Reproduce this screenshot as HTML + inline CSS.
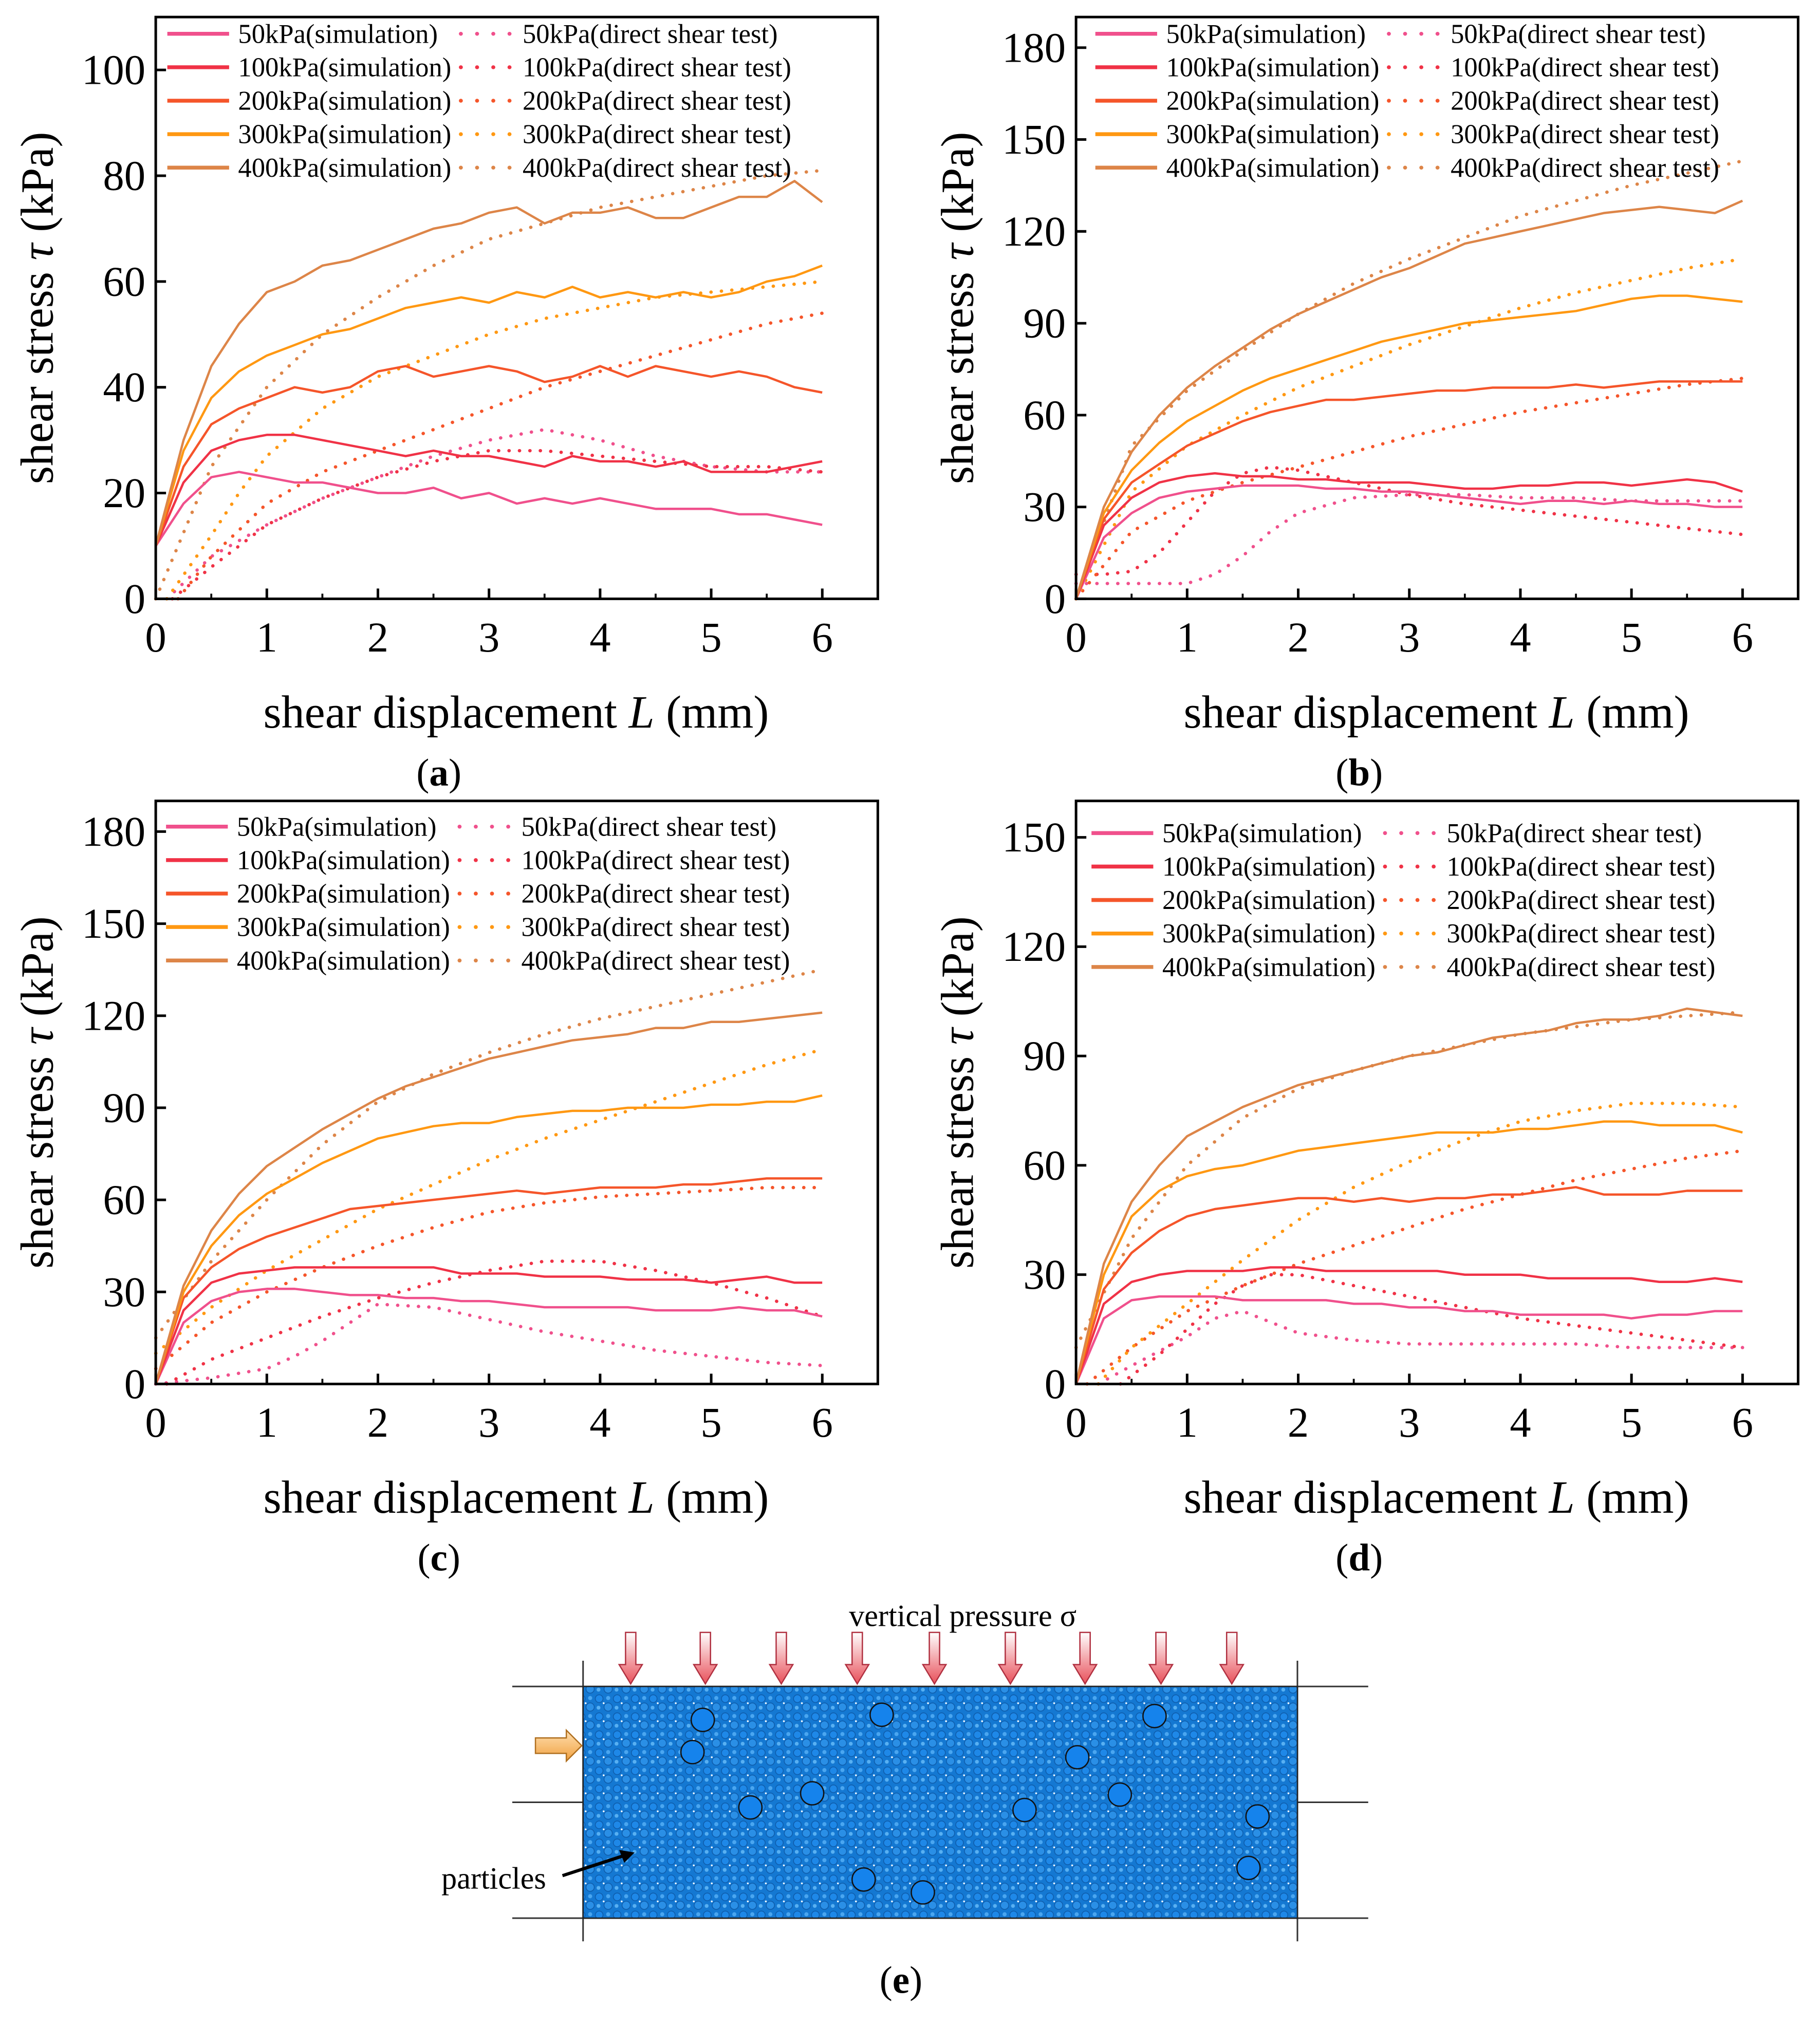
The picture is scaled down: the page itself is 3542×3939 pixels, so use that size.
<!DOCTYPE html>
<html><head><meta charset="utf-8"><style>
html,body{margin:0;padding:0;background:#fff}
svg{display:block;font-family:"Liberation Serif",serif}
</style></head><body>
<svg id="fig" width="3542" height="3939" viewBox="0 0 1414 1572" xmlns="http://www.w3.org/2000/svg">
<defs>
<pattern id="grain" width="14" height="14" patternUnits="userSpaceOnUse">
<rect width="14" height="14" fill="#1478d2"/>
<circle cx="3.5" cy="3.5" r="3" fill="#1e88e8" stroke="#0d5aa8" stroke-width="0.6"/>
<circle cx="10.5" cy="10" r="3.2" fill="#2a8fe6" stroke="#0d5aa8" stroke-width="0.6"/>
<circle cx="10.5" cy="3" r="1.6" fill="#4aa6f0"/>
<circle cx="3" cy="10.5" r="1.5" fill="#58b0f2"/>
<circle cx="7" cy="7" r="0.7" fill="#ffffff"/>
</pattern>
<linearGradient id="arrowGrad" x1="0" y1="0" x2="0" y2="1">
<stop offset="0" stop-color="#ffffff"/><stop offset="1" stop-color="#e8505a"/>
</linearGradient>
<linearGradient id="shearGrad" x1="0" y1="0" x2="0" y2="1">
<stop offset="0" stop-color="#ffe0b0"/><stop offset="1" stop-color="#f0a040"/>
</linearGradient>
</defs>
</svg>
<script>
// ---------- data ----------
const simX = [0,0.25,0.5,0.75,1,1.25,1.5,1.75,2,2.25,2.5,2.75,3,3.25,3.5,3.75,4,4.25,4.5,4.75,5,5.25,5.5,5.75,6];
const pressures = ["50kPa","100kPa","200kPa","300kPa","400kPa"];
const seriesColors = ["#f0508c","#f03246","#f5552a","#ff9812","#dd8548"];

const simA50  = [10,18,23,24,23,22,22,21,20,20,21,19,20,18,19,18,19,18,17,17,17,16,16,15,14];
const simA100 = [10,22,28,30,31,31,30,29,28,27,28,27,27,26,25,27,26,26,25,26,24,24,24,25,26];
const simA200 = [10,25,33,36,38,40,39,40,43,44,42,43,44,43,41,42,44,42,44,43,42,43,42,40,39];
const simA300 = [10,28,38,43,46,48,50,51,53,55,56,57,56,58,57,59,57,58,57,58,57,58,60,61,63];
const simA400 = [10,30,44,52,58,60,63,64,66,68,70,71,73,74,71,73,73,74,72,72,74,76,76,79,75];
const testA50x  = [0.1,0.25,0.5,1,1.5,2,2.5,3,3.5,4,4.5,5,5.5,6];
const testA50y  = [0,3,8,14,19,23,27,30,32,30,27,25,24,24];
const testA100x = [0.15,0.5,1,1.5,2,2.5,3,3.5,4,4.5,5,5.5,6];
const testA100y = [0,6,14,19,23,26,28,28,27,26,25,25,24];
const testA200x = [0.2,0.5,1,1.5,2,2.5,3,3.5,4,4.5,5,5.5,6];
const testA200y = [0,8,18,24,28,32,36,40,43,46,49,52,54];
const testA300x = [0.1,0.5,0.75,1,1.5,2,2.5,3,3.5,4,4.5,5,5.5,6];
const testA300y = [0,12,20,27,36,42,46,50,53,55,57,58,59,60];
const testA400x = [0,0.5,1,1.5,2,2.5,3,3.5,4,4.5,5,5.5,6];
const testA400y = [0,25,40,50,57,63,68,71,74,76,78,80,81];

const simB50  = [0,20,28,33,35,36,37,37,37,36,36,35,35,34,33,32,31,32,32,31,32,31,31,30,30];
const simB100 = [0,24,33,38,40,41,40,40,39,39,38,38,38,37,36,36,37,37,38,38,37,38,39,38,35];
const simB200 = [0,26,38,44,50,54,58,61,63,65,65,66,67,68,68,69,69,69,70,69,70,71,71,71,71];
const simB300 = [0,28,42,51,58,63,68,72,75,78,81,84,86,88,90,91,92,93,94,96,98,99,99,98,97];
const simB400 = [0,30,48,60,69,76,82,88,93,97,101,105,108,112,116,118,120,122,124,126,127,128,127,126,130];
const testB50x  = [0,0.5,1,1.25,1.5,1.75,2,2.5,3,3.5,4,4.5,5,5.5,6];
const testB50y  = [5,5,5,8,14,22,28,33,34,34,33,33,32,32,32];
const testB100x = [0,0.25,0.5,0.75,1,1.25,1.5,1.75,2,2.5,3,3.5,4,4.5,5,5.5,6];
const testB100y = [8,8,9,15,25,35,41,43,42,38,34,31,29,27,25,23,21];
const testB200x = [0,0.5,1,1.5,2,2.5,3,3.5,4,4.5,5,5.5,6];
const testB200y = [0,22,32,38,43,48,53,57,61,64,67,70,72];
const testB300x = [0,0.5,1,1.5,2,2.5,3,3.5,4,4.5,5,5.5,6];
const testB300y = [0,35,50,60,69,76,83,89,95,100,104,108,111];
const testB400x = [0,0.5,1,1.5,2,2.5,3,3.5,4,4.5,5,5.5,6];
const testB400y = [0,50,68,81,93,103,111,118,125,130,135,139,143];

const simC50  = [0,20,27,30,31,31,30,29,29,28,28,27,27,26,25,25,25,25,24,24,24,25,24,24,22];
const simC100 = [0,24,33,36,37,38,38,38,38,38,38,36,36,36,35,35,35,34,34,34,33,34,35,33,33];
const simC200 = [0,28,38,44,48,51,54,57,58,59,60,61,62,63,62,63,64,64,64,65,65,66,67,67,67];
const simC300 = [0,30,45,55,62,67,72,76,80,82,84,85,85,87,88,89,89,90,90,90,91,91,92,92,94];
const simC400 = [0,32,50,62,71,77,83,88,93,97,100,103,106,108,110,112,113,114,116,116,118,118,119,120,121];
const testC50x  = [0,0.5,1,1.25,1.5,1.75,2,2.5,3,3.5,4,4.5,5,5.5,6];
const testC50y  = [0,2,5,9,14,20,26,25,21,17,14,11,9,7,6];
const testC100x = [0.1,0.5,1,1.5,2,2.5,3,3.5,4,4.5,5,5.5,6];
const testC100y = [0,8,15,22,28,33,37,40,40,37,33,28,22];
const testC200x = [0,0.5,1,1.5,2,2.5,3,3.5,4,4.5,5,5.5,6];
const testC200y = [5,20,30,38,45,51,56,59,61,62,63,64,64];
const testC300x = [0,0.5,1,1.5,2,2.5,3,3.5,4,4.5,5,5.5,6];
const testC300y = [10,25,37,47,57,65,73,80,86,92,98,104,109];
const testC400x = [0,0.5,1,1.5,2,2.5,3,3.5,4,4.5,5,5.5,6];
const testC400y = [15,40,60,78,92,101,108,114,119,123,127,131,135];

const simD50  = [0,18,23,24,24,24,23,23,23,23,22,22,21,21,20,20,19,19,19,19,18,19,19,20,20];
const simD100 = [0,22,28,30,31,31,31,32,32,31,31,31,31,31,30,30,30,29,29,29,29,28,28,29,28];
const simD200 = [0,26,36,42,46,48,49,50,51,51,50,51,50,51,51,52,52,53,54,52,52,52,53,53,53];
const simD300 = [0,30,46,53,57,59,60,62,64,65,66,67,68,69,69,69,70,70,71,72,72,71,71,71,69];
const simD400 = [0,33,50,60,68,72,76,79,82,84,86,88,90,91,93,95,96,97,99,100,100,101,103,102,101];
const testD50x  = [0.2,0.5,0.75,1,1.25,1.5,1.75,2,2.5,3,3.5,4,4.5,5,5.5,6];
const testD50y  = [0,5,9,13,18,20,17,14,12,11,11,11,11,10,10,10];
const testD100x = [0.4,0.75,1,1.25,1.5,1.75,2,2.5,3,3.5,4,4.5,5,5.5,6];
const testD100y = [0,8,15,22,27,30,30,27,24,21,18,16,14,12,10];
const testD200x = [0.1,0.5,1,1.5,2,2.5,3,3.5,4,4.5,5,5.5,6];
const testD200y = [0,10,20,27,33,38,43,48,52,56,59,62,64];
const testD300x = [0.2,0.5,1,1.5,2,2.5,3,3.5,4,4.5,5,5.5,6];
const testD300y = [0,10,22,34,45,54,61,67,72,75,77,77,76];
const testD400x = [0,0.5,1,1.5,2,2.5,3,3.5,4,4.5,5,5.5,6];
const testD400y = [10,40,60,73,81,86,90,93,96,98,100,101,102];

const xTicks = [0,1,2,3,4,5,6];
const yTicksA = [0,20,40,60,80,100];
const yTicksB = [0,30,60,90,120,150,180];
const yTicksD = [0,30,60,90,120,150];

// ---------- drawing ----------
const NS = "http://www.w3.org/2000/svg";
const svg = document.getElementById("fig");
function mk(tag, attrs, parent){
  const e = document.createElementNS(NS, tag);
  for (const k in attrs) e.setAttribute(k, attrs[k]);
  (parent||svg).appendChild(e);
  return e;
}

const panels = [
  {id:"a", left:121, top:13, right:682, bottom:465, ymax:110, yt:yTicksA,
   sims:[simA50,simA100,simA200,simA300,simA400],
   tx:[testA50x,testA100x,testA200x,testA300x,testA400x], ty:[testA50y,testA100y,testA200y,testA300y,testA400y],
   legX:130, legY:26},
  {id:"b", left:836, top:13, right:1397, bottom:465, ymax:190, yt:yTicksB,
   sims:[simB50,simB100,simB200,simB300,simB400],
   tx:[testB50x,testB100x,testB200x,testB300x,testB400x], ty:[testB50y,testB100y,testB200y,testB300y,testB400y],
   legX:851, legY:26},
  {id:"c", left:121, top:622, right:682, bottom:1075, ymax:190, yt:yTicksB,
   sims:[simC50,simC100,simC200,simC300,simC400],
   tx:[testC50x,testC100x,testC200x,testC300x,testC400x], ty:[testC50y,testC100y,testC200y,testC300y,testC400y],
   legX:129, legY:642},
  {id:"d", left:836, top:622, right:1397, bottom:1075, ymax:160, yt:yTicksD,
   sims:[simD50,simD100,simD200,simD300,simD400],
   tx:[testD50x,testD100x,testD200x,testD300x,testD400x], ty:[testD50y,testD100y,testD200y,testD300y,testD400y],
   legX:848, legY:647}
];

panels.forEach(p => {
  const g = mk("g", {});
  
  
  const W = p.right - p.left, H = p.bottom - p.top;
  const sx = v => p.left + v / 6.5 * W;
  const sy = v => p.bottom - v / p.ymax * H;

  const sg = mk("g", {}, g);
  
  
  for (let i = 0; i < 5; i++) {
    const d = p.tx[i].map((x, j) => (j ? "L" : "M") + sx(x).toFixed(1) + "," + sy(p.ty[i][j]).toFixed(1)).join("");
    const tl = mk("path", {d: d, fill: "none", stroke: seriesColors[i], "stroke-width": 2.6, "stroke-dasharray": "0.1 8", "stroke-linecap": "round"}, sg);
    
    
  }
  for (let i = 0; i < 5; i++) {
    const d = simX.map((x, j) => (j ? "L" : "M") + sx(x).toFixed(1) + "," + sy(p.sims[i][j]).toFixed(1)).join("");
    const sl = mk("path", {d: d, fill: "none", stroke: seriesColors[i], "stroke-width": 1.8, "stroke-linejoin": "round"}, sg);
    
    
  }

  const fr = mk("rect", {x: p.left, y: p.top, width: W, height: H, fill: "none", stroke: "#000", "stroke-width": 2}, g);
  
  

  xTicks.forEach(t => {
    const x = sx(t);
    const tk = mk("line", {x1: x, y1: p.bottom, x2: x, y2: p.bottom - 8, stroke: "#000", "stroke-width": 2}, g);
    
    
    const tt = mk("text", {x: x, y: p.bottom + 41, "font-size": 33, "text-anchor": "middle"}, g);
    tt.textContent = t;
    
    
  });
  for (let t = 0.5; t < 6.5; t += 1) {
    const mt = mk("line", {x1: sx(t), y1: p.bottom, x2: sx(t), y2: p.bottom - 4, stroke: "#000", "stroke-width": 1.5}, g);
    
    
  }
  p.yt.forEach(t => {
    const y = sy(t);
    const tk = mk("line", {x1: p.left, y1: y, x2: p.left + 8, y2: y, stroke: "#000", "stroke-width": 2}, g);
    
    
    const tt = mk("text", {x: p.left - 8, y: y + 11, "font-size": 33, "text-anchor": "end"}, g);
    tt.textContent = t;
    
    
  });

  const xt = mk("text", {x: p.left + 280, y: p.bottom + 100, "font-size": 36, "text-anchor": "middle"}, g);
  xt.innerHTML = 'shear displacement <tspan font-style="italic">L</tspan> (mm)';
  
  
  const cy = (p.top + p.bottom) / 2;
  const yt = mk("text", {x: p.left - 80, y: cy, "font-size": 36, "text-anchor": "middle", transform: "rotate(-90 " + (p.left - 80) + " " + cy + ")"}, g);
  yt.innerHTML = 'shear stress <tspan font-style="italic">τ</tspan> (kPa)';
  
  

  const pl = mk("text", {x: p.left + 220, y: p.bottom + 145, "font-size": 30, "text-anchor": "middle"}, g);
  pl.innerHTML = '(<tspan font-weight="bold">' + p.id + '</tspan>)';
  
  

  const lg = mk("g", {}, g);
  
  
  for (let i = 0; i < 5; i++) {
    const y = p.legY + i * 26;
    const e1 = mk("line", {x1: p.legX, y1: y, x2: p.legX + 48, y2: y, stroke: seriesColors[i], "stroke-width": 3}, lg);
    
    
    const t1 = mk("text", {x: p.legX + 55, y: y + 7, "font-size": 21}, lg);
    t1.textContent = pressures[i] + "(simulation)";
    
    
    const e2 = mk("line", {x1: p.legX + 228, y1: y, x2: p.legX + 266, y2: y, stroke: seriesColors[i], "stroke-width": 3, "stroke-dasharray": "0.1 12.5", "stroke-linecap": "round"}, lg);
    
    
    const t2 = mk("text", {x: p.legX + 276, y: y + 7, "font-size": 21}, lg);
    t2.textContent = pressures[i] + "(direct shear test)";
    
    
  }
});

// ---------- panel (e) ----------
const bigCircles = [[546,1336],[685,1332],[897,1333],[538,1361],[837,1365],[631,1393],[870,1394],[583,1404],[796,1406],[977,1411],[970,1451],[671,1460],[717,1470]];
const arrowXs = [490,548,607,666,726,785,843,902,957];
const ge = mk("g", {});


[1310,1400,1490].forEach(y => {
  const l = mk("line", {x1: 398, y1: y, x2: 1063, y2: y, stroke: "#333", "stroke-width": 1.2}, ge);
  
  
});
[453,1008].forEach(x => {
  const l = mk("line", {x1: x, y1: 1290, x2: x, y2: 1508, stroke: "#333", "stroke-width": 1.2}, ge);
  
  
});
const spec = mk("rect", {x: 453, y: 1310, width: 555, height: 180, fill: "url(#grain)", stroke: "#222", "stroke-width": 1}, ge);


bigCircles.forEach(c => {
  const b = mk("circle", {cx: c[0], cy: c[1], r: 9, fill: "#1583ec", stroke: "#111", "stroke-width": 1}, ge);
  
  
});
arrowXs.forEach(x => {
  const a = mk("path", {d: `M${x-4},1268 L${x+4},1268 L${x+4},1293 L${x+9},1293 L${x},1308 L${x-9},1293 L${x-4},1293 Z`, fill: "url(#arrowGrad)", stroke: "#b03040", "stroke-width": 1}, ge);
  
  
});
const sa = mk("path", {d: "M416,1350 L440,1350 L440,1344 L452,1356 L440,1368 L440,1362 L416,1362 Z", fill: "url(#shearGrad)", stroke: "#b07020", "stroke-width": 1}, ge);


const vp = mk("text", {x: 748, y: 1263, "font-size": 24, "text-anchor": "middle"}, ge);
vp.textContent = "vertical pressure σ";


const pt = mk("text", {x: 343, y: 1467, "font-size": 24}, ge);
pt.textContent = "particles";


const pa = mk("path", {d: "M437,1457 L486,1441", stroke: "#000", "stroke-width": 2.5, fill: "none"}, ge);


const ph = mk("path", {d: "M493,1439 L481,1437 L485,1447 Z", fill: "#000"}, ge);


const el = mk("text", {x: 700, y: 1548, "font-size": 30, "text-anchor": "middle"}, ge);
el.innerHTML = '(<tspan font-weight="bold">e</tspan>)';


</script>
</body></html>
